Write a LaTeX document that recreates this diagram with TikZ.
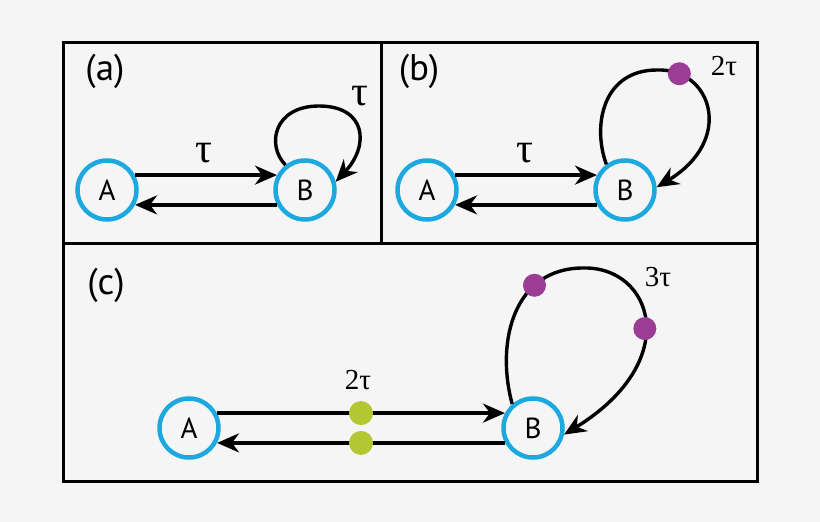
\documentclass[tikz,border=0pt]{standalone}
\usepackage{fontspec}
\setmainfont{Liberation Serif}
\newfontfamily\labfont{PT Sans}
\usetikzlibrary{arrows.meta}
\definecolor{bg}{HTML}{F5F5F5}
\definecolor{ring}{HTML}{1DA9E0}
\definecolor{plum}{HTML}{9B3C95}
\definecolor{lime}{HTML}{B3C733}
\begin{document}
\begin{tikzpicture}[x=1pt,y=-1pt,
  state/.style={circle,draw=ring,line width=4.5pt,minimum size=59pt,inner sep=0pt,
    font=\labfont\fontsize{29}{29}\selectfont},
  arr/.style={line width=3.4pt,-{Stealth[length=22pt,width=19pt,inset=7pt]}},
  frame/.style={line width=3pt,draw=black},
  panel/.style={font=\labfont\fontsize{37}{37}\selectfont,inner sep=0pt},
  tau/.style={font=\fontsize{42}{42}\selectfont,inner sep=0pt},
  ntau/.style={font=\fontsize{29}{29}\selectfont,inner sep=0pt},
  pdot/.style={circle,fill=plum,minimum size=23pt,inner sep=0pt},
  gdot/.style={circle,fill=lime,minimum size=24pt,inner sep=0pt}]
\fill[bg] (0,0) rectangle (820,522);
\useasboundingbox (0,0) rectangle (820,522);
% frames
\draw[frame] (63,42) rectangle (757,481);
\draw[frame] (63,243) -- (757,243);
\draw[frame] (381,42) -- (381,243);
% panel labels
\node[panel] (la) at (105,71) {(a)};
\node[panel] (lb) at (419,71) {(b)};
\node[panel] (lc) at (106,285) {(c)};
% panel (a)
\node[state] (aA) at (107,190) {A};
\node[state] (aB) at (305,190) {B};
\draw[arr] (aA.28) -- (aB.152);
\draw[arr] (aB.208) -- (aA.332);
\draw[arr] (aB.128) .. controls (266,145) and (274,106) .. (319,106)
  .. controls (366,106) and (370,145) .. (aB.15);
\node[tau] (ta1) at (204,153) {τ};
\node[tau] (ta2) at (360,96) {τ};
% panel (b)
\node[state] (bA) at (427,190) {A};
\node[state] (bB) at (625,190) {B};
\draw[arr] (bA.28) -- (bB.152);
\draw[arr] (bB.208) -- (bA.332);
\draw[arr] (bB.126) .. controls (592,125) and (603,70) .. (657,70)
  .. controls (712,68) and (735,140) .. node[pdot,pos=0.15] (bd1) {} (bB.5);
\node[tau] (tb1) at (525,153) {τ};
\node[ntau] (tb2) at (724,66) {2τ};
% panel (c)
\node[state] (cA) at (189,428) {A};
\node[state] (cB) at (533,428) {B};
\draw[arr] (cA.28) -- node[gdot,pos=0.5] (cg1) {} (cB.152);
\draw[arr] (cB.208) -- node[gdot,pos=0.5] (cg2) {} (cA.332);
\draw[arr] (cB.131) .. controls (495,340) and (515,268) .. node[pdot,pos=0.7] (cd1) {} (583,268)
  .. controls (652,266) and (685,360) .. node[pdot,pos=0.53] (cd2) {} (cB.348);
\node[ntau] (tc1) at (358,380) {2τ};
\node[ntau] (tc2) at (658,277) {3τ};
\end{tikzpicture}
\end{document}
